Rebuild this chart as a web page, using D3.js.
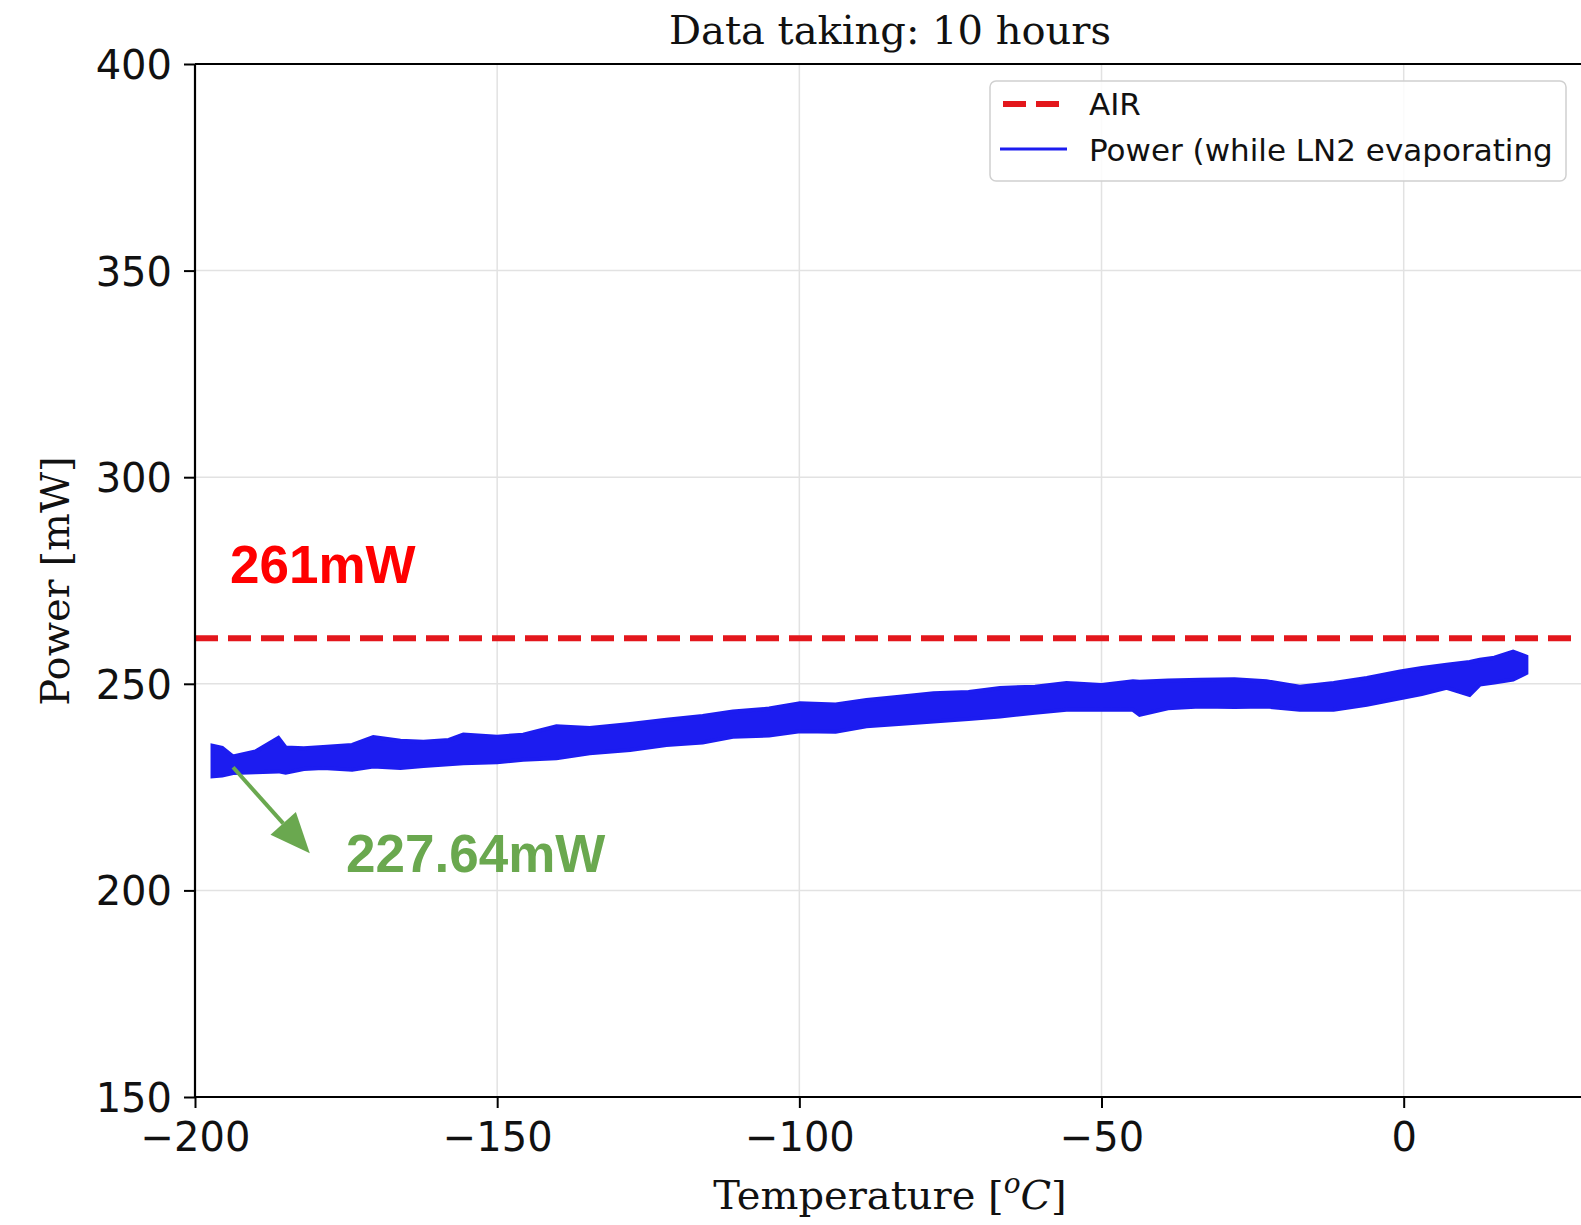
<!DOCTYPE html>
<html>
<head>
<meta charset="utf-8">
<title>Data taking: 10 hours</title>
<script src="https://d3js.org/d3.v7.min.js"></script>
<style>
  body { margin: 0; background: #fff; }
  svg { display: block; }
  .tick text { font-family: "DejaVu Sans", sans-serif; font-size: 40px; fill: #111; }
</style>
</head>
<body>
<svg id="chart"></svg>
<script>
// temperature [°C] and the upper / lower edge of the noisy power band [mW]
const temps = [-197.1, -195.5, -193.7, -190, -186.2, -185, -182, -178.8, -174, -170.5,
  -166, -162.2, -158, -155.6, -150, -145.7, -140.2, -134.7, -128, -122,
  -116, -111, -105, -99.9, -94, -88.9, -83, -77.8, -72, -66.8,
  -61, -55.8, -50, -44.8, -43.7, -39, -33.7, -28, -22.7, -17.2,
  -11.6, -6.1, -0.6, 3, 7.1, 10.9, 12.6, 15, 18.1, 20.3];
const powerHigh = [235.0, 234.5, 232.4, 233.6, 236.9, 234.6, 234.4, 234.7, 235.2, 237.1,
  236.2, 236.0, 236.4, 237.7, 237.2, 237.7, 239.7, 239.3, 240.3, 241.3,
  242.2, 243.3, 244.0, 245.3, 245.0, 246.1, 246.9, 247.7, 248.0, 249.0,
  249.3, 250.2, 249.7, 250.6, 250.5, 250.8, 251.0, 251.1, 250.6, 249.3,
  250.2, 251.4, 253.0, 253.8, 254.6, 255.3, 255.8, 256.3, 257.8, 256.6];
const powerLow = [227.6, 227.8, 228.4, 228.6, 228.8, 228.5, 229.4, 229.6, 229.2, 230.0,
  229.6, 230.1, 230.5, 230.8, 231.0, 231.6, 232.0, 233.2, 234.0, 235.2,
  235.8, 237.2, 237.5, 238.5, 238.4, 239.7, 240.3, 240.9, 241.5, 242.1,
  243.0, 243.7, 243.8, 243.7, 242.5, 244.1, 244.5, 244.4, 244.5, 243.7,
  243.7, 244.9, 246.5, 247.5, 249.0, 247.3, 249.8, 250.3, 251.0, 252.6];

const airPower = 261;
const xTicks = [-200, -150, -100, -50, 0];
const yTicks = [150, 200, 250, 300, 350, 400];

const W = 1581, H = 1225;
const mLeft = 195, mRight = 1585, mTop = 64, mBottom = 1097;

const svg = d3.select('#chart').attr('width', W).attr('height', H);

const x = d3.scaleLinear().domain([-200, 30]).range([mLeft, mRight]);
const y = d3.scaleLinear().domain([150, 400]).range([mBottom, mTop]);

// grid
const grid = svg.append('g');
grid.selectAll('.gx').data(xTicks).enter().append('line')
  .attr('x1', d => x(d)).attr('x2', d => x(d))
  .attr('y1', mTop).attr('y2', mBottom)
  .style('stroke', '#e2e2e2').style('stroke-width', 1.5);
grid.selectAll('.gy').data(yTicks).enter().append('line')
  .attr('x1', mLeft).attr('x2', mRight)
  .attr('y1', d => y(d)).attr('y2', d => y(d))
  .style('stroke', '#e2e2e2').style('stroke-width', 1.5);

// data band
const band = temps.map((t, i) => ({t: t, lo: powerLow[i], hi: powerHigh[i]}));
const area = d3.area()
  .x(d => x(d.t))
  .y0(d => y(d.lo))
  .y1(d => y(d.hi));
svg.append('path')
  .attr('d', area(band))
  .style('fill', '#1c1cf0')
  .style('stroke', '#1c1cf0')
  .style('stroke-width', 4)
  .style('stroke-linejoin', 'miter');

// AIR reference line
svg.append('line')
  .attr('x1', mLeft).attr('x2', mRight)
  .attr('y1', y(airPower)).attr('y2', y(airPower))
  .style('stroke', '#e3171c')
  .style('stroke-width', 6)
  .style('stroke-dasharray', '23,10');

// axes
const xAxis = d3.axisBottom(x).tickValues(xTicks).tickSize(11).tickPadding(15)
  .tickFormat(d => d < 0 ? '\u2212' + Math.abs(d) : d);
const gx = svg.append('g').attr('transform', `translate(0,${mBottom})`).call(xAxis);
const yAxis = d3.axisLeft(y).tickValues(yTicks).tickSize(11).tickPadding(12);
const gy = svg.append('g').attr('transform', `translate(${mLeft},0)`).call(yAxis);
[gx, gy].forEach(g => {
  g.select('.domain').remove();
  g.selectAll('.tick line').style('stroke', '#000').style('stroke-width', 2);
});
gy.selectAll('.tick text').attr('dy', '0.36em');

// spines: left, bottom, top
svg.append('line').attr('x1', mLeft).attr('x2', mLeft).attr('y1', mTop).attr('y2', mBottom)
  .style('stroke', '#000').style('stroke-width', 2.2);
svg.append('line').attr('x1', mLeft).attr('x2', W).attr('y1', mBottom).attr('y2', mBottom)
  .style('stroke', '#000').style('stroke-width', 2.2);
svg.append('line').attr('x1', mLeft).attr('x2', W).attr('y1', mTop).attr('y2', mTop)
  .style('stroke', '#000').style('stroke-width', 2.2);

// title and axis labels
svg.append('text')
  .attr('x', (mLeft + mRight) / 2).attr('y', 44)
  .attr('text-anchor', 'middle')
  .style('font-family', '"DejaVu Serif", serif').style('font-size', '40px').style('fill', '#111')
  .text('Data taking: 10 hours');

const xl = svg.append('text')
  .attr('x', (mLeft + mRight) / 2).attr('y', 1209)
  .attr('text-anchor', 'middle')
  .style('font-family', '"DejaVu Serif", serif').style('font-size', '40px').style('fill', '#111');
xl.append('tspan').text('Temperature [');
xl.append('tspan').attr('dy', -16).style('font-size', '28px').style('font-style', 'italic').text('o');
xl.append('tspan').attr('dy', 16).style('font-style', 'italic').text('C');
xl.append('tspan').text(']');

svg.append('text')
  .attr('transform', 'translate(69,581) rotate(-90)')
  .attr('text-anchor', 'middle')
  .style('font-family', '"DejaVu Serif", serif').style('font-size', '40px').style('fill', '#111')
  .text('Power [mW]');

// annotations
svg.append('text')
  .attr('x', x(-194.2)).attr('y', y(274.5))
  .style('font-family', '"Liberation Sans", Arial, sans-serif').style('font-weight', 'bold')
  .style('font-size', '53px').style('fill', '#ff0000')
  .text('261mW');

svg.append('text')
  .attr('x', x(-175)).attr('y', y(204.5))
  .style('font-family', '"Liberation Sans", Arial, sans-serif').style('font-weight', 'bold')
  .style('font-size', '53px').style('fill', '#6aa84f')
  .text('227.64mW');

const a0 = [x(-193.7), y(229.8)], a1 = [x(-181), y(209.0)];
const ang = Math.atan2(a1[1] - a0[1], a1[0] - a0[0]);
const headLen = 40, headW = 17;
const base = [a1[0] - headLen * Math.cos(ang), a1[1] - headLen * Math.sin(ang)];
svg.append('line')
  .attr('x1', a0[0]).attr('y1', a0[1]).attr('x2', base[0]).attr('y2', base[1])
  .style('stroke', '#6aa84f').style('stroke-width', 4);
svg.append('path')
  .attr('d', `M${a1[0]},${a1[1]}L${base[0] + headW * Math.sin(ang)},${base[1] - headW * Math.cos(ang)}` +
    `L${base[0] - headW * Math.sin(ang)},${base[1] + headW * Math.cos(ang)}Z`)
  .style('fill', '#6aa84f');

// legend
const lg = svg.append('g').attr('transform', 'translate(990,81)');
lg.append('rect')
  .attr('width', 576).attr('height', 100).attr('rx', 6)
  .style('fill', '#fff').style('fill-opacity', 0.85)
  .style('stroke', '#d0d0d0').style('stroke-width', 1.5);
lg.append('line').attr('x1', 13).attr('x2', 74).attr('y1', 23).attr('y2', 23)
  .style('stroke', '#e3171c').style('stroke-width', 6).style('stroke-dasharray', '23,10');
lg.append('line').attr('x1', 10).attr('x2', 77).attr('y1', 68).attr('y2', 68)
  .style('stroke', '#1c1cf0').style('stroke-width', 3);
lg.append('text').attr('x', 99).attr('y', 34)
  .style('font-family', '"DejaVu Sans", sans-serif').style('font-size', '31px').style('fill', '#111')
  .text('AIR');
lg.append('text').attr('x', 99).attr('y', 80)
  .style('font-family', '"DejaVu Sans", sans-serif').style('font-size', '31px').style('fill', '#111')
  .text('Power (while LN2 evaporating');
</script>
</body>
</html>
